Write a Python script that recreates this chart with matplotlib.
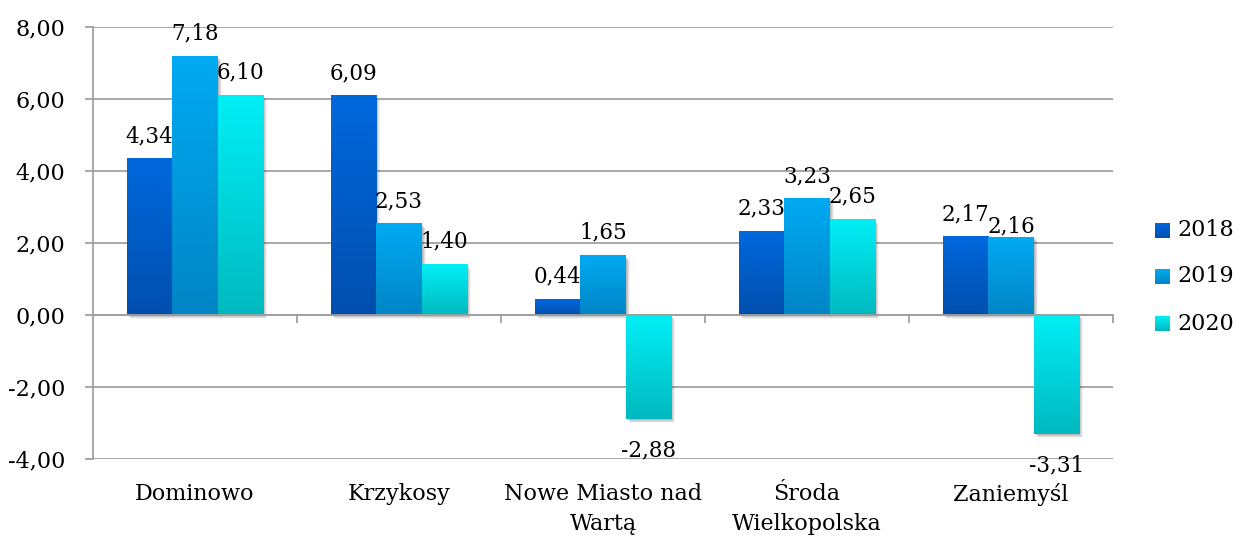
import numpy as np
import matplotlib.pyplot as plt
import matplotlib.transforms as mtransforms
from matplotlib.patches import Rectangle
from matplotlib.colors import LinearSegmentedColormap

plt.rcParams['font.family'] = ['DejaVu Serif']

categories = ['Dominowo', 'Krzykosy', 'Nowe Miasto nad\nWartą', 'Środa\nWielkopolska', 'Zaniemyśl']
years = ['2018', '2019', '2020']
v2018 = [4.34, 6.09, 0.44, 2.33, 2.17]
v2019 = [7.18, 2.53, 1.65, 3.23, 2.16]
v2020 = [6.10, 1.40, -2.88, 2.65, -3.31]
series = [v2018, v2019, v2020]

# top colour, bottom colour of each gradient
grads = [('#0068dc', '#004fae'), ('#00aaf2', '#0085c5'), ('#00eef5', '#00b9c0')]
cmaps = [LinearSegmentedColormap.from_list('g%d' % i, [b, t]) for i, (t, b) in enumerate(grads)]
grad_img = np.linspace(0, 1, 64).reshape(-1, 1)

fig = plt.figure(figsize=(12.36, 5.36), dpi=100)
ax = fig.add_axes([93 / 1236, 1 - 459 / 536, (1113 - 93) / 1236, (459 - 27) / 536])

x = np.arange(len(categories))
w = 0.222
fs = 16
fs_val = 15.5
# Excel pushed this one label down so it does not run into its neighbour
label_nudge = {(1, 4): 3.5}

for k, vals in enumerate(series):
    for i, v in enumerate(vals):
        x0 = x[i] + (k - 1) * w - w / 2
        y0, y1 = min(0, v), max(0, v)
        # soft shadow
        for d, a in [(4, 0.05), (3, 0.07), (2, 0.09), (1, 0.1)]:
            off = mtransforms.ScaledTranslation(d / 100, -d / 100, fig.dpi_scale_trans)
            ax.add_patch(Rectangle((x0, y0), w, y1 - y0, facecolor='black', alpha=a,
                                   edgecolor='none', transform=ax.transData + off, zorder=2))
        ax.imshow(grad_img, cmap=cmaps[k], origin='lower', aspect='auto',
                  extent=[x0, x0 + w, y0, y1], interpolation='bilinear', zorder=3)
        txt = ('%.2f' % v).replace('.', ',')
        dy = 12 if v >= 0 else -27
        dy = label_nudge.get((k, i), dy)
        ax.annotate(txt, (x0 + w / 2, v), xytext=(0, dy), textcoords='offset points',
                    ha='center', va='baseline', fontsize=fs_val, zorder=5)

ax.set_xlim(-0.5, 4.5)
ax.set_ylim(-4, 8)
ax.set_yticks(np.arange(-4, 9, 2))
ax.set_yticklabels([('%.2f' % t).replace('.', ',') for t in np.arange(-4, 9, 2)], fontsize=fs)
ax.grid(axis='y', color='#a0a0a0', linewidth=1.3, zorder=1)
ax.set_axisbelow(True)

for s in ['top', 'right']:
    ax.spines[s].set_visible(False)
ax.spines['left'].set_color('#a0a0a0')
ax.spines['left'].set_linewidth(1.3)
ax.spines['bottom'].set_position(('data', 0))
ax.spines['bottom'].set_color('#a0a0a0')
ax.spines['bottom'].set_linewidth(1.3)
ax.spines['bottom'].set_zorder(4)

ax.set_xticks(np.arange(0.5, 5, 1))
ax.set_xticklabels([])
ax.tick_params(axis='x', direction='out', length=6, width=1.3, color='#a0a0a0')
ax.tick_params(axis='y', direction='out', length=6, width=1.3, color='#a0a0a0', pad=14)

for i, c in enumerate(categories):
    ax.annotate(c, (x[i], -4), xytext=(0, -17), textcoords='offset points',
                ha='center', va='top', fontsize=fs, linespacing=1.5)

# legend with gradient squares
for k, yr in enumerate(years):
    top = [223, 269, 316][k]
    lax = fig.add_axes([1155 / 1236, 1 - (top + 15) / 536, 15 / 1236, 15 / 536])
    lax.imshow(grad_img, cmap=cmaps[k], origin='lower', aspect='auto', interpolation='bilinear')
    lax.axis('off')
    fig.text(1177 / 1236, 1 - (top + 7.5) / 536, yr, fontsize=fs, va='center', ha='left')

fig.savefig('out.png', dpi=100)
